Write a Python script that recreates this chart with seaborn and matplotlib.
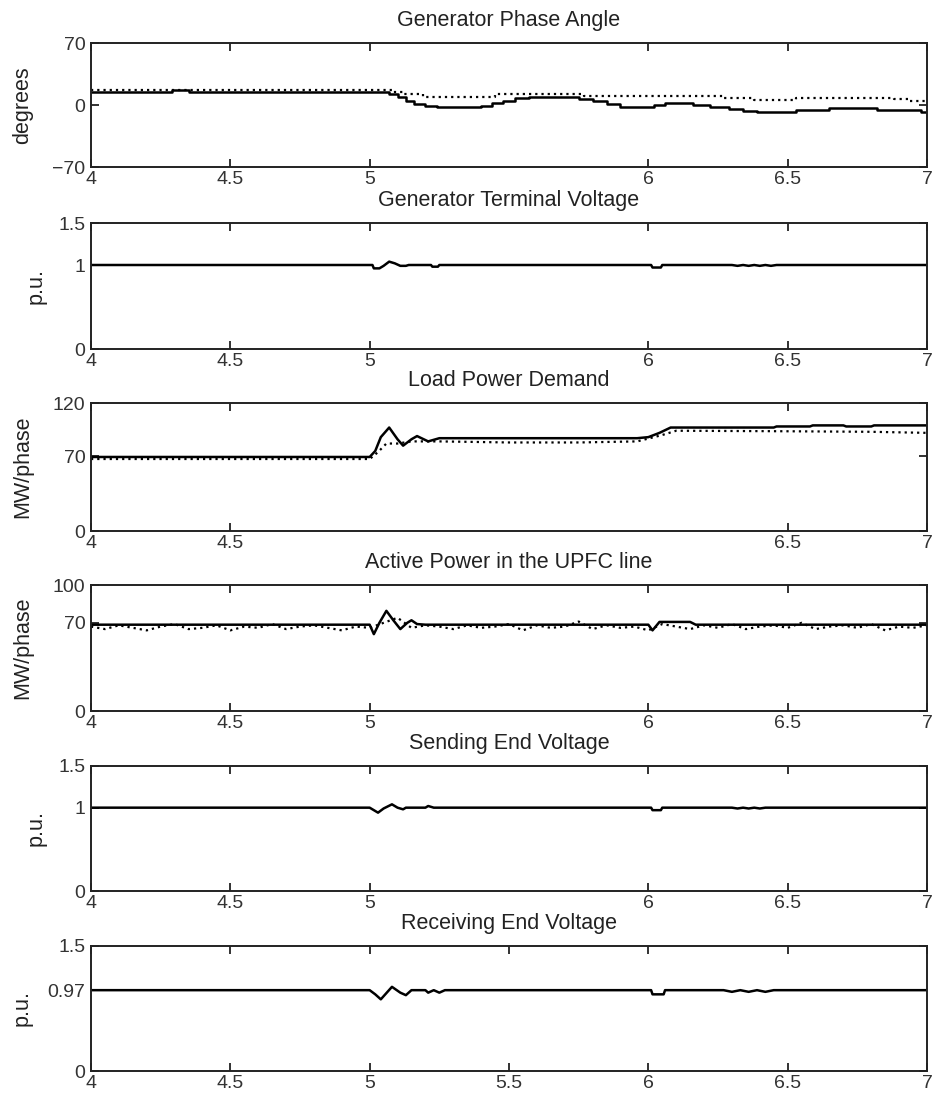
import numpy as np
import pandas as pd
import matplotlib
matplotlib.use("Agg")
import matplotlib.pyplot as plt
import seaborn as sns

# ---------------- data ----------------
# Panel 1: Generator Phase Angle (degrees)
p1_solid_t = [4.00, 4.29, 4.35, 5.07, 5.10, 5.13, 5.16, 5.20, 5.24, 5.40, 5.44, 5.48, 5.52, 5.57,
              5.75, 5.80, 5.85, 5.90, 6.02, 6.06, 6.16, 6.22, 6.29, 6.34, 6.39, 6.53, 6.65, 6.82, 6.98, 7.00]
p1_solid_v = [14.7, 17.0, 14.7, 12.0, 8.5, 4.5, 1.5, -1.0, -2.8, -1.0, 2.0, 5.0, 7.5, 9.5,
              7.0, 4.0, 1.5, -1.7, 0.5, 2.8, 0.0, -2.0, -4.7, -6.5, -8.4, -5.8, -3.2, -5.8, -8.4, -8.4]
p1_dot_t = [4.00, 5.08, 5.12, 5.19, 5.45, 5.77, 6.27, 6.38, 6.53, 6.88, 6.94, 7.00]
p1_dot_v = [17.0, 15.0, 12.9, 9.5, 12.0, 10.0, 7.6, 5.8, 8.0, 6.5, 4.7, 4.7]

# Panel 2: Generator Terminal Voltage (p.u.)
p2_t = [4.00, 5.01, 5.015, 5.035, 5.05, 5.07, 5.09, 5.11, 5.13, 5.14, 5.22, 5.225, 5.245, 5.25,
        6.01, 6.015, 6.045, 6.05, 6.30, 6.32, 6.34, 6.36, 6.38, 6.40, 6.42, 6.44, 6.46, 7.00]
p2_v = [1.00, 1.00, 0.96, 0.96, 0.99, 1.04, 1.02, 0.99, 0.99, 1.00, 1.00, 0.98, 0.98, 1.00,
        1.00, 0.97, 0.97, 1.00, 1.00, 0.99, 1.00, 0.99, 1.00, 0.99, 1.00, 0.99, 1.00, 1.00]

# Panel 3: Load Power Demand (MW/phase)
p3_solid_t = [4.00, 5.00, 5.02, 5.04, 5.07, 5.10, 5.12, 5.15, 5.17, 5.21, 5.25, 5.96, 6.00, 6.04,
              6.08, 6.45, 6.46, 6.58, 6.59, 6.70, 6.71, 6.80, 6.81, 7.00]
p3_solid_v = [69.4, 69.4, 75.0, 88.0, 97.0, 86.0, 80.0, 86.0, 89.0, 84.0, 87.0, 87.0, 88.0, 92.0,
              97.0, 97.0, 98.0, 98.0, 99.0, 99.0, 98.0, 98.0, 99.0, 99.0]
p3_dot_t = [4.00, 5.00, 5.03, 5.06, 5.10, 5.15, 5.25, 5.50, 5.75, 5.96, 6.05, 6.10, 6.50, 6.80, 7.00]
p3_dot_v = [67.5, 67.5, 74.0, 82.0, 82.0, 84.0, 84.0, 83.0, 83.0, 84.0, 90.0, 94.0, 93.5, 93.0, 92.0]

# Panel 4: Active Power in the UPFC line (MW/phase)
p4_solid_t = [4.00, 5.00, 5.015, 5.035, 5.06, 5.085, 5.11, 5.135, 5.15, 5.17, 5.20, 6.00, 6.015,
              6.04, 6.15, 6.17, 7.00]
p4_solid_v = [68.5, 68.5, 61.0, 70.0, 79.5, 72.0, 65.0, 70.0, 72.0, 69.0, 68.5, 68.5, 64.0,
              70.7, 70.7, 68.5, 68.5]
p4_dot_t = [4.00, 4.05, 4.10, 4.15, 4.20, 4.25, 4.30, 4.35, 4.40, 4.45, 4.50, 4.55, 4.60, 4.65,
            4.70, 4.75, 4.80, 4.85, 4.90, 4.95, 5.00, 5.05, 5.10, 5.15, 5.20, 5.25, 5.30, 5.35,
            5.40, 5.45, 5.50, 5.55, 5.60, 5.65, 5.70, 5.75, 5.80, 5.85, 5.90, 5.95, 6.00, 6.05,
            6.10, 6.15, 6.20, 6.25, 6.30, 6.35, 6.40, 6.45, 6.50, 6.55, 6.60, 6.65, 6.70, 6.75,
            6.80, 6.85, 6.90, 6.95, 7.00]
p4_dot_v = [67, 65, 68, 66, 64, 67, 69, 65, 66, 68, 64, 67, 66, 69, 65, 67, 68, 66, 64, 67,
            66, 70, 74, 66, 68, 67, 65, 68, 66, 67, 69, 64, 68, 66, 67, 71, 65, 68, 66, 67,
            64, 69, 67, 65, 68, 66, 69, 65, 67, 68, 66, 70, 65, 67, 68, 66, 69, 64, 67, 66, 68]

# Panel 5: Sending End Voltage (p.u.)
p5_t = [4.00, 5.00, 5.01, 5.03, 5.05, 5.08, 5.10, 5.12, 5.13, 5.20, 5.21, 5.23, 6.01, 6.015, 6.045,
        6.05, 6.30, 6.32, 6.34, 6.36, 6.38, 6.40, 6.42, 6.44, 7.00]
p5_v = [1.00, 1.00, 0.98, 0.94, 0.99, 1.04, 1.00, 0.98, 1.00, 1.00, 1.02, 1.00, 1.00, 0.97, 0.97,
        1.00, 1.00, 0.99, 1.00, 0.99, 1.00, 0.99, 1.00, 1.00, 1.00]

# Panel 6: Receiving End Voltage (p.u.)
p6_t = [4.00, 5.00, 5.02, 5.04, 5.08, 5.11, 5.13, 5.15, 5.20, 5.21, 5.23, 5.25, 5.27, 6.01, 6.015,
        6.055, 6.06, 6.27, 6.30, 6.33, 6.36, 6.39, 6.42, 6.45, 7.00]
p6_v = [0.97, 0.97, 0.92, 0.86, 1.01, 0.94, 0.91, 0.97, 0.97, 0.94, 0.97, 0.94, 0.97, 0.97, 0.92,
        0.92, 0.97, 0.97, 0.95, 0.97, 0.95, 0.97, 0.95, 0.97, 0.97]

titles = ["Generator Phase Angle", "Generator Terminal Voltage", "Load Power Demand",
          "Active Power in the UPFC line", "Sending End Voltage", "Receiving End Voltage"]
ylabels = ["degrees", "p.u.", "MW/phase", "MW/phase", "p.u.", "p.u."]
ylims = [(-70, 70), (0, 1.5), (0, 120), (0, 100), (0, 1.5), (0, 1.5)]
yticks = [[-70, 0, 70], [0, 1, 1.5], [0, 70, 120], [0, 70, 100], [0, 1, 1.5], [0, 0.97, 1.5]]
yticklabels = [["\u221270", "0", "70"], ["0", "1", "1.5"], ["0", "70", "120"],
               ["0", "70", "100"], ["0", "1", "1.5"], ["0", "0.97", "1.5"]]
xticks = [[4, 4.5, 5, 6, 6.5, 7], [4, 4.5, 5, 6, 6.5, 7], [4, 4.5, 6.5, 7],
          [4, 4.5, 5, 6, 6.5, 7], [4, 4.5, 5, 6, 6.5, 7], [4, 4.5, 5, 5.5, 6, 6.5, 7]]
xticklabels = [[("%g" % v) for v in xs] for xs in xticks]

solid_series = [(p1_solid_t, p1_solid_v), (p2_t, p2_v), (p3_solid_t, p3_solid_v),
                (p4_solid_t, p4_solid_v), (p5_t, p5_v), (p6_t, p6_v)]
dot_series = [(p1_dot_t, p1_dot_v), None, (p3_dot_t, p3_dot_v), (p4_dot_t, p4_dot_v), None, None]
steps = [True, False, False, False, False, False]

# ---------------- style ----------------
sns.set_theme(style="ticks")
plt.rcParams["font.family"] = ["Liberation Sans", "DejaVu Sans"]
plt.rcParams["axes.linewidth"] = 1.4
plt.rcParams["axes.edgecolor"] = "#222222"

fig = plt.figure(figsize=(9.32, 11.04), dpi=100)
W, H = 932.0, 1104.0
left_px, right_px = 91, 927
panel_px = [(43, 167), (223, 349), (403, 531), (585, 711), (766, 891), (946, 1071)]
label_x_px = [33, 47, 33, 33, 47, 33]

for i in range(6):
    top, bot = panel_px[i]
    ax = fig.add_axes([left_px / W, 1 - bot / H, (right_px - left_px) / W, (bot - top) / H])
    t, v = solid_series[i]
    df = pd.DataFrame({"t": t, "v": v})
    sns.lineplot(data=df, x="t", y="v", ax=ax, color="black", linewidth=1.8,
                 estimator=None, sort=False,
                 drawstyle="steps-post" if steps[i] else "default")
    if dot_series[i] is not None:
        td, vd = dot_series[i]
        dfd = pd.DataFrame({"t": td, "v": vd})
        sns.lineplot(data=dfd, x="t", y="v", ax=ax, color="black", linewidth=1.6,
                     linestyle=(0, (1, 1.8)), estimator=None, sort=False,
                     drawstyle="steps-post" if steps[i] else "default")
    ax.set_xlim(4, 7)
    ax.set_ylim(*ylims[i])
    ax.set_xticks(xticks[i])
    ax.set_xticklabels(xticklabels[i])
    ax.set_yticks(yticks[i])
    ax.set_yticklabels(yticklabels[i])
    ax.tick_params(direction="in", length=6, width=1.3, top=True, right=True,
                   labelsize=14, colors="#222222", labelcolor="#333333")
    ax.tick_params(axis="x", pad=3)
    ax.tick_params(axis="y", pad=4)
    ax.set_xlabel("")
    ax.set_ylabel(ylabels[i], fontsize=15.5, color="#222222")
    ax.yaxis.set_label_coords((label_x_px[i] - left_px) / (right_px - left_px), 0.5)
    ax.set_title(titles[i], fontsize=15.5, color="#222222", pad=12)
    for s in ax.spines.values():
        s.set_visible(True)
        s.set_color("#222222")

fig.savefig("out.png", dpi=100, facecolor="white")
